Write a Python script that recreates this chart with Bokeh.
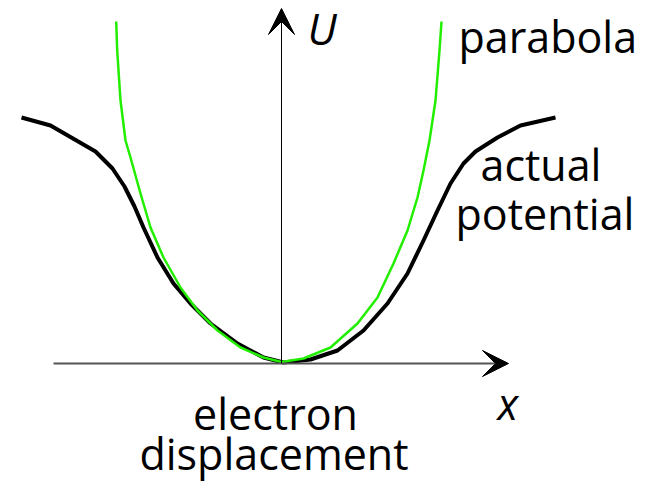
from bokeh.plotting import figure
from bokeh.models import Range1d, Label, Arrow, VeeHead
from bokeh.embed import file_html
from bokeh.resources import INLINE

# actual potential (black curve)
actual_x = [-2.60, -2.31, -1.86, -1.69, -1.57, -1.47, -1.38, -1.24, -1.08, -0.91, -0.71, -0.44,
            -0.18, 0.02, 0.29, 0.56, 0.82, 1.06, 1.26, 1.42, 1.56, 1.69, 1.82, 1.94, 2.16, 2.39, 2.74]
actual_y = [2.46, 2.38, 2.12, 1.95, 1.77, 1.57, 1.36, 1.06, 0.80, 0.60, 0.40, 0.20,
            0.06, 0.01, 0.04, 0.13, 0.33, 0.60, 0.90, 1.23, 1.53, 1.80, 2.00, 2.12, 2.26, 2.38, 2.46]

# parabola (green curve)
parab_x = [-1.653, -1.643, -1.61, -1.56, -1.51, -1.41, -1.31, -1.18, -1.01, -0.84, -0.64, -0.41,
           -0.18, 0.0, 0.22, 0.49, 0.76, 0.96, 1.12, 1.26, 1.36, 1.42, 1.48, 1.54, 1.58, 1.60]
parab_y = [3.42, 3.13, 2.63, 2.23, 2.06, 1.70, 1.36, 1.06, 0.76, 0.53, 0.33, 0.16,
           0.06, 0.015, 0.05, 0.16, 0.40, 0.66, 1.00, 1.33, 1.66, 1.93, 2.23, 2.63, 3.13, 3.42]

# axes extents
x_axis_start, x_axis_end = -2.28, 2.27
y_axis_start, y_axis_end = 0.0, 3.55

FONT = "Open Sans"
FS = "43px"

p = figure(width=647, height=490, output_backend="svg", toolbar_location=None,
           x_range=Range1d(-2.81, 3.66), y_range=Range1d(-1.27, 3.63),
           min_border=0, outline_line_color=None)
p.axis.visible = False
p.grid.visible = False

# horizontal axis with arrow
p.add_layout(Arrow(x_start=x_axis_start, y_start=0, x_end=x_axis_end, y_end=0,
                   line_color="#555555", line_width=2,
                   end=VeeHead(size=26, fill_color="black", line_color="black")))
# vertical axis with arrow
p.add_layout(Arrow(x_start=0, y_start=y_axis_start, x_end=0, y_end=y_axis_end,
                   line_color="black", line_width=1,
                   end=VeeHead(size=26, fill_color="black", line_color="black")))

p.line(actual_x, actual_y, line_color="black", line_width=4, line_join="round")
p.line(parab_x, parab_y, line_color="#22ee00", line_width=2.5, line_join="round")

def lab(txt, x, y, align="left", style="normal"):
    p.add_layout(Label(x=x, y=y, text=txt, text_font=FONT, text_font_size=FS,
                       text_align=align, text_baseline="alphabetic",
                       text_font_style=style, text_color="black"))

lab("parabola", 1.77, 3.27)
lab("actual", 1.99, 1.99)
lab("potential", 1.74, 1.50)
lab("electron", -0.06, -0.50, align="center")
lab("displacement", -0.075, -0.90, align="center")
lab("U", 0.26, 3.35, style="italic")
lab("x", 2.16, -0.40, style="italic")

open("out.html", "w").write(file_html(p, INLINE))
